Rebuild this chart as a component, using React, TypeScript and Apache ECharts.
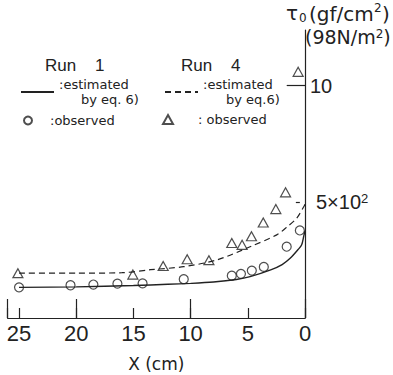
import React, { useEffect, useRef } from "react";
import * as echarts from "echarts";

// Run 1 estimated curve (solid): distance X (cm), tau0
const run1EstX = [25, 20, 15, 12, 10, 8, 6, 4.8, 3, 2, 1.3, 0.6, 0.29, 0.1, 0];
const run1EstY = [1.32, 1.34, 1.4, 1.45, 1.49, 1.55, 1.66, 1.78, 2.07, 2.3, 2.57, 2.95, 3.15, 3.55, 3.75];
// Run 4 estimated curve (dashed)
const run4EstX = [25, 20, 16, 13.5, 10.6, 7.7, 4.8, 2.47, 1.5, 0.72, 0.1, 0];
const run4EstY = [1.93, 1.93, 1.95, 2.08, 2.21, 2.5, 3.07, 3.58, 3.95, 4.3, 4.8, 4.9];
// Run 1 observed (circles)
const run1ObsX = [25, 20.5, 18.5, 16.4, 14.2, 10.6, 6.4, 5.6, 4.65, 3.6, 1.6, 0.45];
const run1ObsY = [1.32, 1.41, 1.44, 1.48, 1.49, 1.67, 1.82, 1.9, 2.04, 2.2, 3.07, 3.77];
// Run 4 observed (triangles)
const run4ObsX = [25.1, 15.05, 12.4, 10.3, 8.4, 6.4, 5.5, 4.68, 3.65, 2.55, 1.7, 0.6];
const run4ObsY = [1.93, 1.87, 2.24, 2.53, 2.49, 3.23, 3.15, 3.52, 4.11, 4.69, 5.41, 10.6];

const xTicks = [0, 5, 10, 15, 20, 25];
const yTickLabels: Record<number, string> = { 5: "{b|5×10}{p|2}", 10: "{a|10}" };

const ink = "#222";
const font = "Liberation Sans";
const wide = "DejaVu Sans";

const zip = (xs: number[], ys: number[]) => xs.map((x, i) => [x, ys[i]]);

export default function App() {
  const ref = useRef<HTMLDivElement>(null);
  useEffect(() => {
    if (!ref.current) return;
    const chart = echarts.init(ref.current, null, { renderer: "svg" });
    const legendBase = {
      orient: "horizontal",
      padding: 0,
      selectedMode: false,
    };
    const estRich = (pad: number) => ({
      a: { fontSize: 13, lineHeight: 15, color: ink, fontFamily: wide },
      b: { fontSize: 13, lineHeight: 15, color: ink, fontFamily: wide, padding: [0, 0, 0, pad] },
    });
    const runStyle = { fontSize: 17, fontWeight: "normal", color: ink, fontFamily: font };
    chart.setOption({
      animation: false,
      backgroundColor: "#fff",
      textStyle: { fontFamily: font, color: ink },
      title: [
        { text: "Run    1", left: 45, top: 57, padding: 0, textStyle: runStyle },
        { text: "Run    4", left: 181, top: 57, padding: 0, textStyle: runStyle },
      ],
      graphic: [
        {
          type: "group",
          x: 286,
          y: 3,
          silent: true,
          children: [
            { type: "text", x: 0, y: 0, style: { text: "τ", fill: ink, fontFamily: wide, fontSize: 20, verticalAlign: "top", align: "left" } },
            { type: "text", x: 13, y: 9, style: { text: "0", fill: ink, fontFamily: wide, fontSize: 12, verticalAlign: "top", align: "left" } },
            { type: "text", x: 23, y: 1, style: { text: "(gf/cm", fill: ink, fontFamily: wide, fontSize: 20, verticalAlign: "top", align: "left" } },
            { type: "text", x: 88, y: -1, style: { text: "2", fill: ink, fontFamily: wide, fontSize: 12, verticalAlign: "top", align: "left" } },
            { type: "text", x: 96, y: 1, style: { text: ")", fill: ink, fontFamily: wide, fontSize: 20, verticalAlign: "top", align: "left" } },
          ],
        },
      ],
      legend: [
        {
          ...legendBase,
          data: ["Run 1 estimated"],
          left: 20,
          top: 78,
          itemWidth: 33,
          itemHeight: 10,
          itemStyle: { opacity: 0 },
          formatter: () => "{a|:estimated}\n{b|by eq. 6)}",
          textStyle: { color: ink, fontFamily: wide, rich: estRich(22) },
        },
        {
          ...legendBase,
          data: ["Run 4 estimated"],
          left: 164,
          top: 78,
          itemWidth: 33,
          itemHeight: 10,
          itemStyle: { opacity: 0 },
          formatter: () => "{a|:estimated}\n{b|by eq.6)}",
          textStyle: { color: ink, fontFamily: wide, rich: estRich(23) },
        },
        {
          ...legendBase,
          data: ["Run 1 observed"],
          left: 23,
          top: 114,
          itemWidth: 20,
          itemHeight: 8,
          formatter: () => "{a|:observed}",
          textStyle: {
            color: ink,
            fontFamily: wide,
            rich: { a: { fontSize: 13, color: ink, fontFamily: wide, padding: [0, 0, 0, 7] } },
          },
        },
        {
          ...legendBase,
          data: ["Run 4 observed"],
          left: 162,
          top: 113,
          itemWidth: 10,
          itemHeight: 9,
          formatter: () => "{a|: observed}",
          textStyle: {
            color: ink,
            fontFamily: wide,
            rich: { a: { fontSize: 13, color: ink, fontFamily: wide, padding: [0, 0, 0, 20] } },
          },
        },
      ],
      grid: { left: 7.6, right: 88, top: 30, bottom: 57, outerBoundsMode: "none", containLabel: false },
      xAxis: [
        {
          type: "value",
          inverse: true,
          min: 0,
          max: 26,
          interval: 5,
          position: "bottom",
          name: "X (cm)",
          nameLocation: "middle",
          nameGap: 37,
          nameTextStyle: { fontSize: 17, color: ink, fontFamily: wide },
          axisLine: { show: true, lineStyle: { color: ink, width: 1.2 } },
          axisTick: { show: true, inside: true, length: 10, lineStyle: { color: ink, width: 1.2 } },
          axisLabel: {
            show: true,
            fontSize: 22,
            margin: 4,
            color: ink,
            fontFamily: font,
            formatter: (v: number) => (xTicks.includes(v) ? String(v) : ""),
          },
          splitLine: { show: false },
        },
        {
          type: "value",
          inverse: true,
          min: 0,
          max: 26,
          interval: 10,
          position: "bottom",
          offset: 0,
          axisLine: { show: false },
          axisTick: { show: true, inside: true, length: 19, lineStyle: { color: ink, width: 1.2 } },
          axisLabel: { show: false },
          splitLine: { show: false },
        },
      ],
      yAxis: {
        type: "value",
        min: 0,
        max: 12.4,
        interval: 5,
        position: "right",
        name: "{v|(98N/m}{p|2}{v|)}",
        nameLocation: "end",
        nameGap: -7,
        nameTextStyle: {
          align: "left",
          verticalAlign: "middle",
          color: ink,
          fontFamily: wide,
          rich: {
            v: { fontSize: 19, color: ink, fontFamily: wide, lineHeight: 19 },
            p: { fontSize: 12, color: ink, fontFamily: wide, lineHeight: 19, verticalAlign: "top" },
          },
        },
        axisLine: { show: true, lineStyle: { color: ink, width: 1.2 } },
        axisTick: { show: false },
        splitLine: { show: false },
        axisLabel: {
          show: true,
          margin: 5,
          color: ink,
          fontFamily: font,
          formatter: (v: number) => yTickLabels[v] ?? "",
          rich: {
            a: { fontSize: 20, color: ink, fontFamily: font, lineHeight: 20 },
            b: { fontSize: 20, color: ink, fontFamily: font, lineHeight: 20, padding: [0, 0, 0, 6] },
            p: { fontSize: 13, color: ink, fontFamily: font, lineHeight: 20, verticalAlign: "top" },
          },
        },
      },
      series: [
        {
          name: "Run 1 estimated",
          type: "line",
          xAxisIndex: 0,
          data: zip(run1EstX, run1EstY),
          smooth: 0.3,
          symbol: "none",
          lineStyle: { color: ink, width: 1.4, type: "solid" },
          itemStyle: { color: ink },
          silent: true,
          markLine: {
            silent: true,
            symbol: "none",
            label: { show: false },
            lineStyle: { color: ink, width: 1.2, type: "solid" },
            data: [
              [{ coord: [1.6, 10] }, { coord: [0, 10] }],
              [{ coord: [0.8, 5] }, { coord: [0.45, 5] }],
            ],
          },
        },
        {
          name: "Run 4 estimated",
          type: "line",
          xAxisIndex: 0,
          data: zip(run4EstX, run4EstY),
          smooth: 0.3,
          symbol: "none",
          lineStyle: { color: ink, width: 1.2, type: [6, 4] },
          itemStyle: { color: ink },
          silent: true,
        },
        {
          name: "Run 1 observed",
          type: "scatter",
          xAxisIndex: 0,
          data: zip(run1ObsX, run1ObsY),
          symbol: "circle",
          symbolSize: 9,
          itemStyle: { color: "#fff", borderColor: ink, borderWidth: 1.2 },
          silent: true,
        },
        {
          name: "Run 4 observed",
          type: "scatter",
          xAxisIndex: 0,
          data: zip(run4ObsX, run4ObsY),
          symbol: "triangle",
          symbolSize: [10, 9],
          itemStyle: { color: "#fff", borderColor: ink, borderWidth: 1.2 },
          silent: true,
        },
      ],
    });
    return () => chart.dispose();
  }, []);
  return (
    <div
      ref={ref}
      style={{ position: "fixed", left: 0, top: 0, width: 393, height: 375, background: "#fff" }}
    />
  );
}
